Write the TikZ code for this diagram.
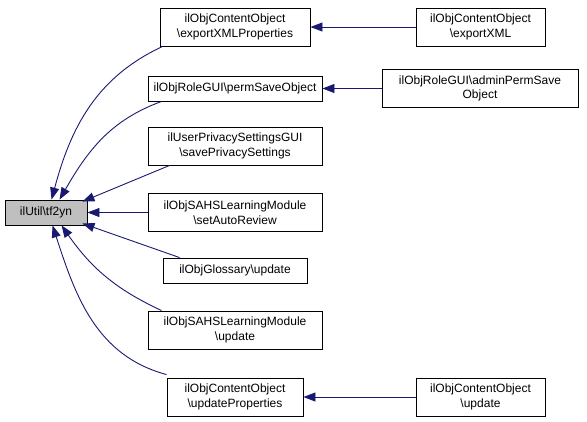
\documentclass[tikz,border=0pt]{standalone}
\usepackage{fontspec}
\setmainfont{Liberation Sans}
\usetikzlibrary{arrows.meta}
\definecolor{edgeblue}{HTML}{191970}
\definecolor{rootgray}{HTML}{BFBFBF}

\begin{document}
\begin{tikzpicture}[x=1pt,y=-1pt,
  fn/.style={draw=black,line width=.9pt,fill=white,inner sep=0pt,align=center,
    minimum height=38pt,font=\fontsize{12}{14.5}\selectfont},
  caller/.style={draw=edgeblue,line width=.9pt,-{Triangle[length=12pt,width=9pt]}}]
 \useasboundingbox (0,0) rectangle (587,421);
 % the function and its callers
 \node[fn,fill=rootgray,minimum width=82pt,minimum height=25pt] (tfyn) at (46,212.5) {ilUtil\textbackslash tf2yn};
 \node[fn,minimum width=150pt] (xmlprops) at (235,27) {ilObjContentObject\\\textbackslash exportXMLProperties};
 \node[fn,minimum width=174pt,minimum height=25pt] (permsave) at (235,88.5) {ilObjRoleGUI\textbackslash permSaveObject};
 \node[fn,minimum width=174pt] (privacy) at (235,146) {ilUserPrivacySettingsGUI\\\textbackslash savePrivacySettings};
 \node[fn,minimum width=174pt] (autorev) at (235,212.5) {ilObjSAHSLearningModule\\\textbackslash setAutoReview};
 \node[fn,minimum width=144pt,minimum height=25pt] (glossupd) at (235,270.5) {ilObjGlossary\textbackslash update};
 \node[fn,minimum width=174pt] (sahsupd) at (235,330) {ilObjSAHSLearningModule\\\textbackslash update};
 \node[fn,minimum width=136pt] (updprops) at (235,397) {ilObjContentObject\\\textbackslash updateProperties};
 \node[fn,minimum width=129pt] (exportxml) at (480.5,27) {ilObjContentObject\\\textbackslash exportXML};
 \node[fn,minimum width=196pt] (adminperm) at (480,88.5) {ilObjRoleGUI\textbackslash adminPermSave\\Object};
 \node[fn,minimum width=129pt] (coupd) at (480.5,397) {ilObjContentObject\\\textbackslash update};
 % call edges
 \draw[caller] ([xshift=3pt]xmlprops.south west) to[out=205,in=75] ([xshift=47pt]tfyn.north west);
 \draw[caller] ([xshift=14pt]permsave.south west) to[out=200,in=60] ([xshift=55pt]tfyn.north west);
 \draw[caller] ([xshift=22pt]privacy.south west) -- ([xshift=-5pt,yshift=-2pt]tfyn.north east);
 \draw[caller] (autorev.west) -- (tfyn.east);
 \draw[caller] ([xshift=17pt]glossupd.north west) -- ([xshift=-5pt,yshift=2pt]tfyn.south east);
 \draw[caller] ([xshift=14pt]sahsupd.north west) to[out=155,in=-55] ([xshift=57pt]tfyn.south west);
 \draw[caller] ([yshift=3pt]updprops.north west) to[out=165,in=-72] ([xshift=48pt]tfyn.south west);
 \draw[caller] (exportxml.west) -- (xmlprops.east);
 \draw[caller] (adminperm.west) -- (permsave.east);
 \draw[caller] (coupd.west) -- (updprops.east);
\end{tikzpicture}
\end{document}
